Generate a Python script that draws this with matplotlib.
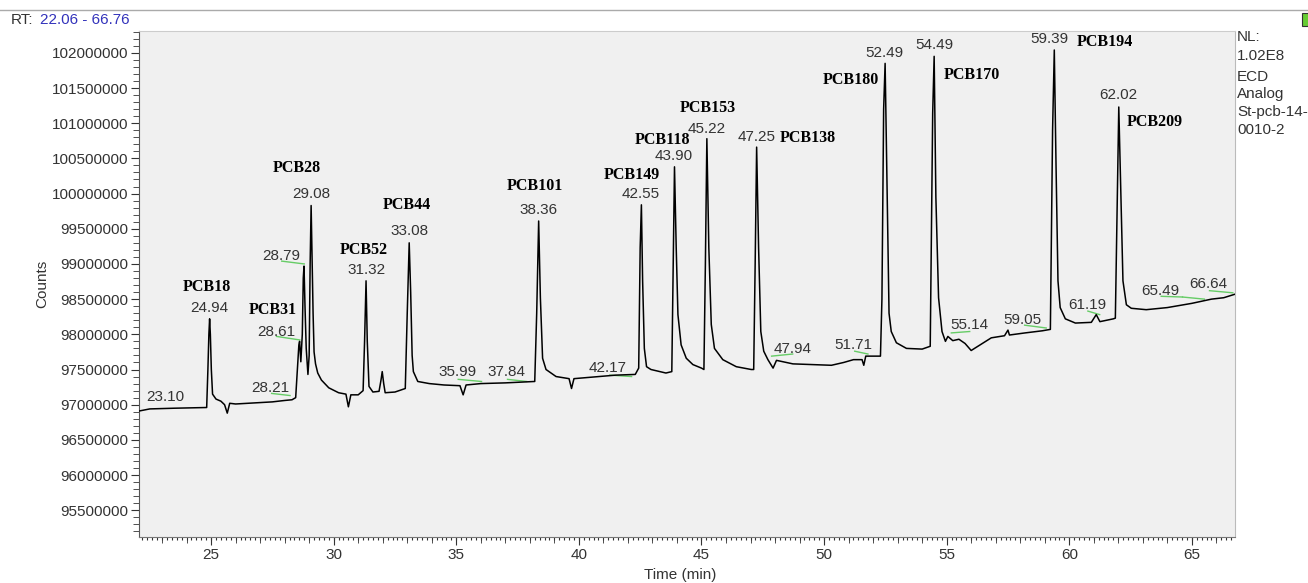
import matplotlib
matplotlib.use("Agg")
import matplotlib.pyplot as plt
from matplotlib.ticker import MultipleLocator, NullFormatter, FuncFormatter

# chromatogram trace (time in min, counts in millions)
rt = [22.06, 22.5, 23.5, 24.5, 24.82, 24.87, 24.91, 24.94, 24.97, 25.01, 25.06, 25.2, 25.4,
      25.55, 25.66, 25.76, 26.0, 26.5, 27.0, 27.5, 28.0, 28.3, 28.45, 28.52, 28.58, 28.61,
      28.66, 28.72, 28.76, 28.79, 28.83, 28.88, 28.95, 29.0, 29.04, 29.08, 29.12, 29.16,
      29.2, 29.26, 29.35, 29.5, 29.8, 30.2, 30.5, 30.6, 30.7, 31.0, 31.2, 31.26, 31.32,
      31.37, 31.44, 31.6, 31.85, 31.93, 31.98, 32.04, 32.1, 32.5, 32.92, 33.0, 33.08, 33.14,
      33.2, 33.25, 33.43, 33.9, 34.5, 35.15, 35.28, 35.4, 36.0, 37.0, 38.2, 38.28, 38.36,
      38.43, 38.52, 38.66, 39.07, 39.6, 39.7, 39.8, 40.5, 41.5, 42.3, 42.44, 42.50, 42.55,
      42.60, 42.67, 42.76, 42.94, 43.55, 43.79, 43.85, 43.90, 43.97, 44.04, 44.17, 44.38,
      44.65, 45.0, 45.1, 45.16, 45.22, 45.30, 45.40, 45.53, 45.87, 46.42, 47.03, 47.13,
      47.19, 47.25, 47.33, 47.42, 47.54, 47.71, 47.92, 48.06, 48.73, 49.5, 50.3, 50.8,
      51.2, 51.55, 51.62, 51.7, 52.3, 52.36, 52.43, 52.49, 52.55, 52.6, 52.65, 52.74, 52.95,
      53.36, 54.0, 54.33, 54.43, 54.49, 54.56, 54.67, 54.81, 54.95, 55.05, 55.25, 55.5,
      55.75, 56.0, 56.41, 56.82, 57.36, 57.5, 57.56, 58.2, 58.9, 59.23, 59.32, 59.39, 59.46,
      59.54, 59.63, 59.84, 60.25, 60.9, 61.1, 61.25, 61.8, 61.88, 62.02, 62.09, 62.19,
      62.33, 62.53, 63.14, 64.0, 65.0, 65.8, 66.3, 66.76]
counts = [96.91, 96.94, 96.95, 96.957, 96.96, 97.5, 98.0, 98.22, 98.0, 97.5, 97.15, 97.08, 97.05,
          97.0, 96.88, 97.02, 97.01, 97.02, 97.03, 97.04, 97.06, 97.07, 97.1, 97.5, 97.85, 97.9,
          97.61, 98.0, 98.8, 98.97, 98.4, 97.8, 97.43, 97.7, 99.0, 99.83, 99.1, 98.3,
          97.75, 97.58, 97.45, 97.35, 97.24, 97.17, 97.15, 96.97, 97.14, 97.14, 97.2, 97.9, 98.76,
          97.9, 97.26, 97.18, 97.19, 97.35, 97.47, 97.3, 97.17, 97.18, 97.23, 98.3, 99.30, 98.6,
          97.7, 97.47, 97.33, 97.30, 97.28, 97.27, 97.14, 97.28, 97.30, 97.31, 97.33, 98.3, 99.61,
          98.52, 97.66, 97.50, 97.40, 97.37, 97.23, 97.37, 97.39, 97.42, 97.43, 97.52, 99.23, 99.84,
          98.76, 97.80, 97.54, 97.50, 97.45, 97.47, 99.0, 100.38, 99.23, 98.28, 97.85, 97.66,
          97.57, 97.52, 97.50, 99.0, 100.78, 99.23, 98.14, 97.80, 97.64, 97.54, 97.50, 97.50,
          99.0, 100.66, 99.23, 98.04, 97.76, 97.64, 97.52, 97.63, 97.58, 97.57, 97.56, 97.6,
          97.64, 97.64, 97.56, 97.69, 97.69, 98.5, 101.2, 101.85, 100.5, 99.3, 98.3, 98.04, 97.88,
          97.80, 97.79, 97.83, 101.14, 101.95, 99.95, 98.52, 98.04, 97.90, 97.97, 97.91, 97.93,
          97.87, 97.77, 97.86, 97.95, 97.98, 98.06, 97.99, 98.02, 98.05, 98.07, 100.90, 102.04, 100.42,
          98.76, 98.38, 98.22, 98.16, 98.17, 98.28, 98.18, 98.22, 98.23, 101.23, 100.19, 98.76,
          98.42, 98.37, 98.35, 98.38, 98.44, 98.5, 98.52, 98.57]

# retention time labels (text, time, counts in millions)
rt_labels = ["23.10", "24.94", "28.21", "28.61", "28.79", "29.08", "31.32", "33.08", "35.99",
             "37.84", "38.36", "42.17", "42.55", "43.90", "45.22", "47.25", "47.94", "51.71",
             "52.49", "54.49", "55.14", "59.05", "59.39", "61.19", "62.02", "65.49", "66.64"]
rt_lab_x = [23.12, 24.93, 27.40, 27.67, 27.88, 29.10, 31.34, 33.08, 35.04,
            37.05, 38.37, 41.19, 42.52, 43.87, 45.20, 47.24, 48.72, 51.18,
            52.47, 54.48, 55.94, 58.09, 59.20, 60.72, 62.02, 63.72, 65.69]
rt_lab_y = [97.11, 98.38, 97.24, 98.04, 99.11, 100.0, 98.91, 99.47, 97.46,
            97.46, 99.76, 97.52, 100.0, 100.53, 100.92, 100.80, 97.79, 97.85,
            102.0, 102.11, 98.13, 98.20, 102.2, 98.42, 101.40, 98.62, 98.72]

# compound names
pcb_names = ["PCB18", "PCB31", "PCB28", "PCB52", "PCB44", "PCB101", "PCB149", "PCB118",
             "PCB153", "PCB138", "PCB180", "PCB170", "PCB194", "PCB209"]
pcb_x = [24.82, 27.53, 28.50, 31.23, 32.97, 38.20, 42.15, 43.41,
         45.27, 49.33, 51.11, 56.01, 61.44, 63.48]
pcb_y = [98.67, 98.35, 100.36, 99.20, 99.84, 100.11, 100.26, 100.76,
         101.21, 100.79, 101.61, 101.69, 102.16, 101.02]

# green baseline marks (t0, t1, c0, c1)
base_t0 = [27.47, 27.67, 27.88, 35.08, 37.09, 41.26, 47.86, 51.25, 55.19, 58.18, 60.76, 63.75, 64.62, 65.72]
base_t1 = [28.22, 28.62, 28.80, 36.03, 37.87, 42.15, 48.72, 51.79, 55.94, 59.06, 61.24, 64.62, 65.51, 66.67]
base_c0 = [97.16, 97.97, 99.04, 97.36, 97.36, 97.42, 97.69, 97.76, 98.02, 98.13, 98.33, 98.54, 98.53, 98.62]
base_c1 = [97.13, 97.92, 99.00, 97.33, 97.33, 97.40, 97.72, 97.72, 98.04, 98.09, 98.28, 98.53, 98.50, 98.59]

side_text = ["NL:", "1.02E8", "ECD", "Analog", "St-pcb-14-", "0010-2"]

sans = "Liberation Sans"
serif = "Liberation Serif"
W, H = 1308, 583

fig = plt.figure(figsize=(W / 100, H / 100), dpi=100)
ax = fig.add_axes([139 / W, 1 - 537 / H, (1235 - 139) / W, (537 - 31) / H])
ax.set_facecolor("#f0f0f0")

ax.plot(rt, [c * 1e6 for c in counts], color="black", lw=1.1, zorder=3)

for t0, t1, c0, c1 in zip(base_t0, base_t1, base_c0, base_c1):
    ax.plot([t0, t1], [c0 * 1e6, c1 * 1e6], color="#66cc66", lw=1.0, zorder=2)

for s, x, y in zip(rt_labels, rt_lab_x, rt_lab_y):
    ax.text(x, y * 1e6, s, ha="center", va="center", fontsize=11, color="#333333",
            family=sans, zorder=4)

for s, x, y in zip(pcb_names, pcb_x, pcb_y):
    ax.text(x, y * 1e6, s, ha="center", va="center", fontsize=11.5, fontweight="bold",
            color="black", family=serif, zorder=4)

ax.set_xlim(22.06, 66.76)
ax.set_ylim(95.12e6, 102.31e6)

ax.xaxis.set_major_locator(MultipleLocator(5))
ax.xaxis.set_minor_locator(MultipleLocator(1))
ax.yaxis.set_major_locator(MultipleLocator(500000))
ax.yaxis.set_minor_locator(MultipleLocator(100000))
ax.yaxis.set_major_formatter(FuncFormatter(lambda v, p: "%d" % round(v)))

ax.tick_params(axis="both", which="major", length=6, color="#333333", labelcolor="#333333",
               labelsize=11, direction="out", pad=2)
ax.tick_params(axis="both", which="minor", length=4, color="#333333", direction="out")
for lab in ax.get_xticklabels() + ax.get_yticklabels():
    lab.set_family(sans)

# fine 0.2 min ticks
sec = ax.secondary_xaxis("bottom")
sec.xaxis.set_major_locator(MultipleLocator(0.2))
sec.xaxis.set_major_formatter(NullFormatter())
sec.tick_params(length=2.2, color="#333333")
sec.spines["bottom"].set_visible(False)

ax.spines["left"].set_color("#555555")
ax.spines["bottom"].set_color("#777777")
ax.spines["right"].set_color("#bbbbbb")
ax.spines["top"].set_color("#cccccc")

fig.text(680 / W, 1 - 575 / H, "Time (min)", fontsize=11, family=sans, color="#333333",
         ha="center", va="center")
fig.text(42 / W, 1 - 284 / H, "Counts", fontsize=11, family=sans, color="#333333",
         ha="center", va="center", rotation=90)

# header
fig.add_artist(plt.Line2D([0, 1], [1 - 10 / H, 1 - 10 / H], color="#aaaaaa", lw=1))
fig.text(11 / W, 1 - 20 / H, "RT:", fontsize=11, family=sans, color="#333333", va="center")
fig.text(40 / W, 1 - 20 / H, "22.06 - 66.76", fontsize=11, family=sans, color="#3333bb",
         va="center")
fig.add_artist(plt.Rectangle((1302 / W, 1 - 26 / H), 8 / W, 13 / H,
                             facecolor="#66cc33", edgecolor="#333333", lw=0.8))

for s, y in zip(side_text, [37, 56, 77, 94, 112, 130]):
    fig.text(1237 / W, 1 - y / H, s, fontsize=11, family=sans, color="#333333", va="center")

fig.savefig("out.png", dpi=100, facecolor="white")
